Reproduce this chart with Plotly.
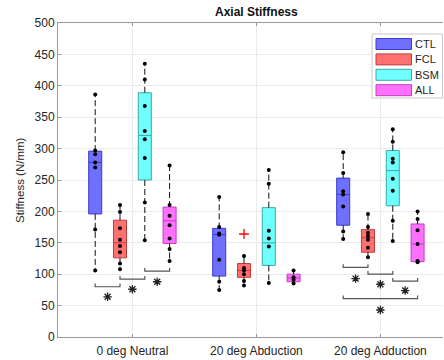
import plotly.graph_objects as go

# ---------------- data ----------------
groups = ["0 deg Neutral", "20 deg Abduction", "20 deg Adduction"]
series = ["CTL", "FCL", "BSM", "ALL"]

ctl_q1 = [196, 97, 178]
ctl_med = [278, 163, 227]
ctl_q3 = [296, 173, 253]
ctl_lo = [106, 75, 156]
ctl_hi = [386, 223, 294]
ctl_pts = [[386, 297, 291, 278, 270, 171, 106],
           [223, 175, 165, 163, 123, 88, 75],
           [294, 261, 232, 227, 208, 168, 156]]

fcl_q1 = [126, 95, 135]
fcl_med = [150, 106, 158]
fcl_q3 = [186, 117, 171]
fcl_lo = [108, 82, 127]
fcl_hi = [210, 129, 196]
fcl_pts = [[210, 199, 173, 155, 145, 135, 117, 108],
           [129, 110, 106, 100, 89, 82],
           [196, 175, 166, 161, 155, 142, 127]]
fcl_outliers = [[], [164], []]

bsm_q1 = [250, 114, 209]
bsm_med = [321, 150, 265]
bsm_q3 = [389, 206, 297]
bsm_lo = [154, 86, 153]
bsm_hi = [435, 266, 331]
bsm_pts = [[435, 410, 368, 328, 315, 285, 214, 154],
           [266, 244, 169, 157, 144, 86],
           [331, 311, 284, 278, 252, 233, 185, 153]]

all_q1 = [149, 88, 120]
all_med = [185, 94, 148]
all_q3 = [207, 100, 180]
all_lo = [121, 85, 119]
all_hi = [273, 106, 200]
all_pts = [[273, 210, 193, 178, 157, 140, 121],
           [106, 95, 91, 85],
           [200, 188, 170, 148, 121, 119]]

# significance brackets: group index (0-based), left series, right series, bracket level, star level
br_group = [0, 0, 0, 2, 2, 2, 2]
br_left = [0, 1, 2, 0, 1, 2, 0]
br_right = [1, 2, 3, 1, 2, 3, 3]
br_y = [80, 92, 105, 111, 100, 89, 61]
star_y = [64, 76, 88, 93, 84, 74, 43]

# ---------------- styling ----------------
fills = ["#7070ff", "#ff7070", "#70ffff", "#ff70ff"]
edges = ["#3a3acc", "#c23c3c", "#3aa8a8", "#c23cc2"]
offsets = [-0.3, -0.1, 0.1, 0.3]
box_w = 0.105
FONT = "Liberation Sans, Arial, sans-serif"
TXT = "#262626"
AX = "#9a9a9a"
GRID = "#ebebeb"

stats = [
    (ctl_q1, ctl_med, ctl_q3, ctl_lo, ctl_hi, ctl_pts),
    (fcl_q1, fcl_med, fcl_q3, fcl_lo, fcl_hi, fcl_pts),
    (bsm_q1, bsm_med, bsm_q3, bsm_lo, bsm_hi, bsm_pts),
    (all_q1, all_med, all_q3, all_lo, all_hi, all_pts),
]

fig = go.Figure()

# whiskers (dashed)
wx, wy = [], []
for s, (q1, med, q3, lo, hi, pts) in enumerate(stats):
    for g in range(3):
        xp = g + 1 + offsets[s]
        wx += [xp, xp, None, xp, xp, None]
        wy += [q3[g], hi[g], None, q1[g], lo[g], None]
fig.add_trace(go.Scatter(x=wx, y=wy, mode="lines", showlegend=False, hoverinfo="skip",
                         line=dict(color="#111111", width=1, dash="6px,3px")))

# boxes
for s, (q1, med, q3, lo, hi, pts) in enumerate(stats):
    xs = [g + 1 + offsets[s] for g in range(3)]
    fig.add_trace(go.Box(
        x=xs, q1=q1, median=med, q3=q3, lowerfence=q1, upperfence=q3,
        width=box_w, whiskerwidth=0, fillcolor=fills[s],
        line=dict(color=edges[s], width=1), boxpoints=False,
        name=series[s], showlegend=False))

# data points
px_, py_ = [], []
for s, (q1, med, q3, lo, hi, pts) in enumerate(stats):
    for g in range(3):
        for v in pts[g]:
            px_.append(g + 1 + offsets[s])
            py_.append(v)
fig.add_trace(go.Scatter(x=px_, y=py_, mode="markers", showlegend=False,
                         marker=dict(color="black", size=4)))

# outliers
ox, oy = [], []
for g in range(3):
    for v in fcl_outliers[g]:
        ox.append(g + 1 + offsets[1])
        oy.append(v)
fig.add_trace(go.Scatter(x=ox, y=oy, mode="markers", showlegend=False,
                         marker=dict(symbol="cross-thin-open", color="red", size=7,
                                     line=dict(color="red", width=1.3))))

# brackets
bx, by = [], []
sx, sy = [], []
tick = 5
for k in range(len(br_group)):
    x0 = br_group[k] + 1 + offsets[br_left[k]]
    x1 = br_group[k] + 1 + offsets[br_right[k]]
    bx += [x0, x0, x1, x1, None]
    by += [br_y[k] + tick, br_y[k], br_y[k], br_y[k] + tick, None]
    sx.append((x0 + x1) / 2)
    sy.append(star_y[k])
fig.add_trace(go.Scatter(x=bx, y=by, mode="lines", showlegend=False, hoverinfo="skip",
                         line=dict(color="#555555", width=1.2)))
fig.add_trace(go.Scatter(x=sx, y=sy, mode="markers", showlegend=False,
                         marker=dict(symbol="asterisk-open", color="#222222", size=7,
                                     line=dict(color="#222222", width=1.3))))

# ---------------- layout ----------------
L, R, T, B = 58, 1, 23, 23
W, H = 444, 360
pw, ph = W - L - R, H - T - B


def pxx(p):
    return (p - L) / pw


def pyy(p):
    return (H - B - p) / ph


shapes = []
annotations = []
# legend box
shapes.append(dict(type="rect", xref="paper", yref="paper",
                   x0=pxx(372), x1=pxx(442.5), y0=pyy(98), y1=pyy(34),
                   line=dict(color="#c8c8c8", width=1), fillcolor="white", layer="above"))
for s in range(4):
    top = 38.5 + s * 15.4
    shapes.append(dict(type="rect", xref="paper", yref="paper",
                       x0=pxx(376), x1=pxx(411.5), y0=pyy(top + 11), y1=pyy(top),
                       line=dict(color=edges[s], width=1), fillcolor=fills[s], layer="above"))
    annotations.append(dict(xref="paper", yref="paper", x=pxx(412.5), y=pyy(top + 5.5),
                            text=series[s], showarrow=False, xanchor="left", yanchor="middle",
                            font=dict(family=FONT, size=11, color=TXT)))

annotations.append(dict(xref="x", yref="paper", x=2.0, y=pyy(12), text="<b>Axial Stiffness</b>",
                        showarrow=False, xanchor="center", yanchor="middle",
                        font=dict(family=FONT, size=12, color="#111111")))
annotations.append(dict(xref="paper", yref="paper", x=pxx(20), y=pyy(180), text="Stiffness (N/mm)",
                        showarrow=False, textangle=-90, xanchor="center", yanchor="middle",
                        font=dict(family=FONT, size=11.5, color=TXT)))

fig.update_layout(
    width=W, height=H,
    margin=dict(l=L, r=R, t=T, b=B, pad=0, autoexpand=False),
    paper_bgcolor="white", plot_bgcolor="white",
    showlegend=False,
    shapes=shapes, annotations=annotations,
    font=dict(family=FONT, size=12, color=TXT),
    xaxis=dict(range=[0.4, 3.505], tickmode="array", tickvals=[1, 2, 3], ticktext=groups,
               automargin=False, ticklabelstandoff=3,
               showgrid=True, gridcolor=GRID, gridwidth=1, zeroline=False,
               showline=True, linecolor=AX, linewidth=1, mirror="ticks",
               ticks="inside", ticklen=3, tickcolor=AX,
               tickfont=dict(family=FONT, size=12, color=TXT)),
    yaxis=dict(range=[0, 500], tickmode="linear", tick0=0, dtick=50,
               automargin=False,
               showgrid=True, gridcolor=GRID, gridwidth=1, zeroline=False,
               showline=True, linecolor=AX, linewidth=1, mirror=False,
               ticks="inside", ticklen=3, tickcolor=AX,
               tickfont=dict(family=FONT, size=12, color=TXT)),
)

fig.write_html("out.html", config={"displayModeBar": False, "staticPlot": True},
               post_script="document.body.style.margin='0';document.body.style.padding='0';")
